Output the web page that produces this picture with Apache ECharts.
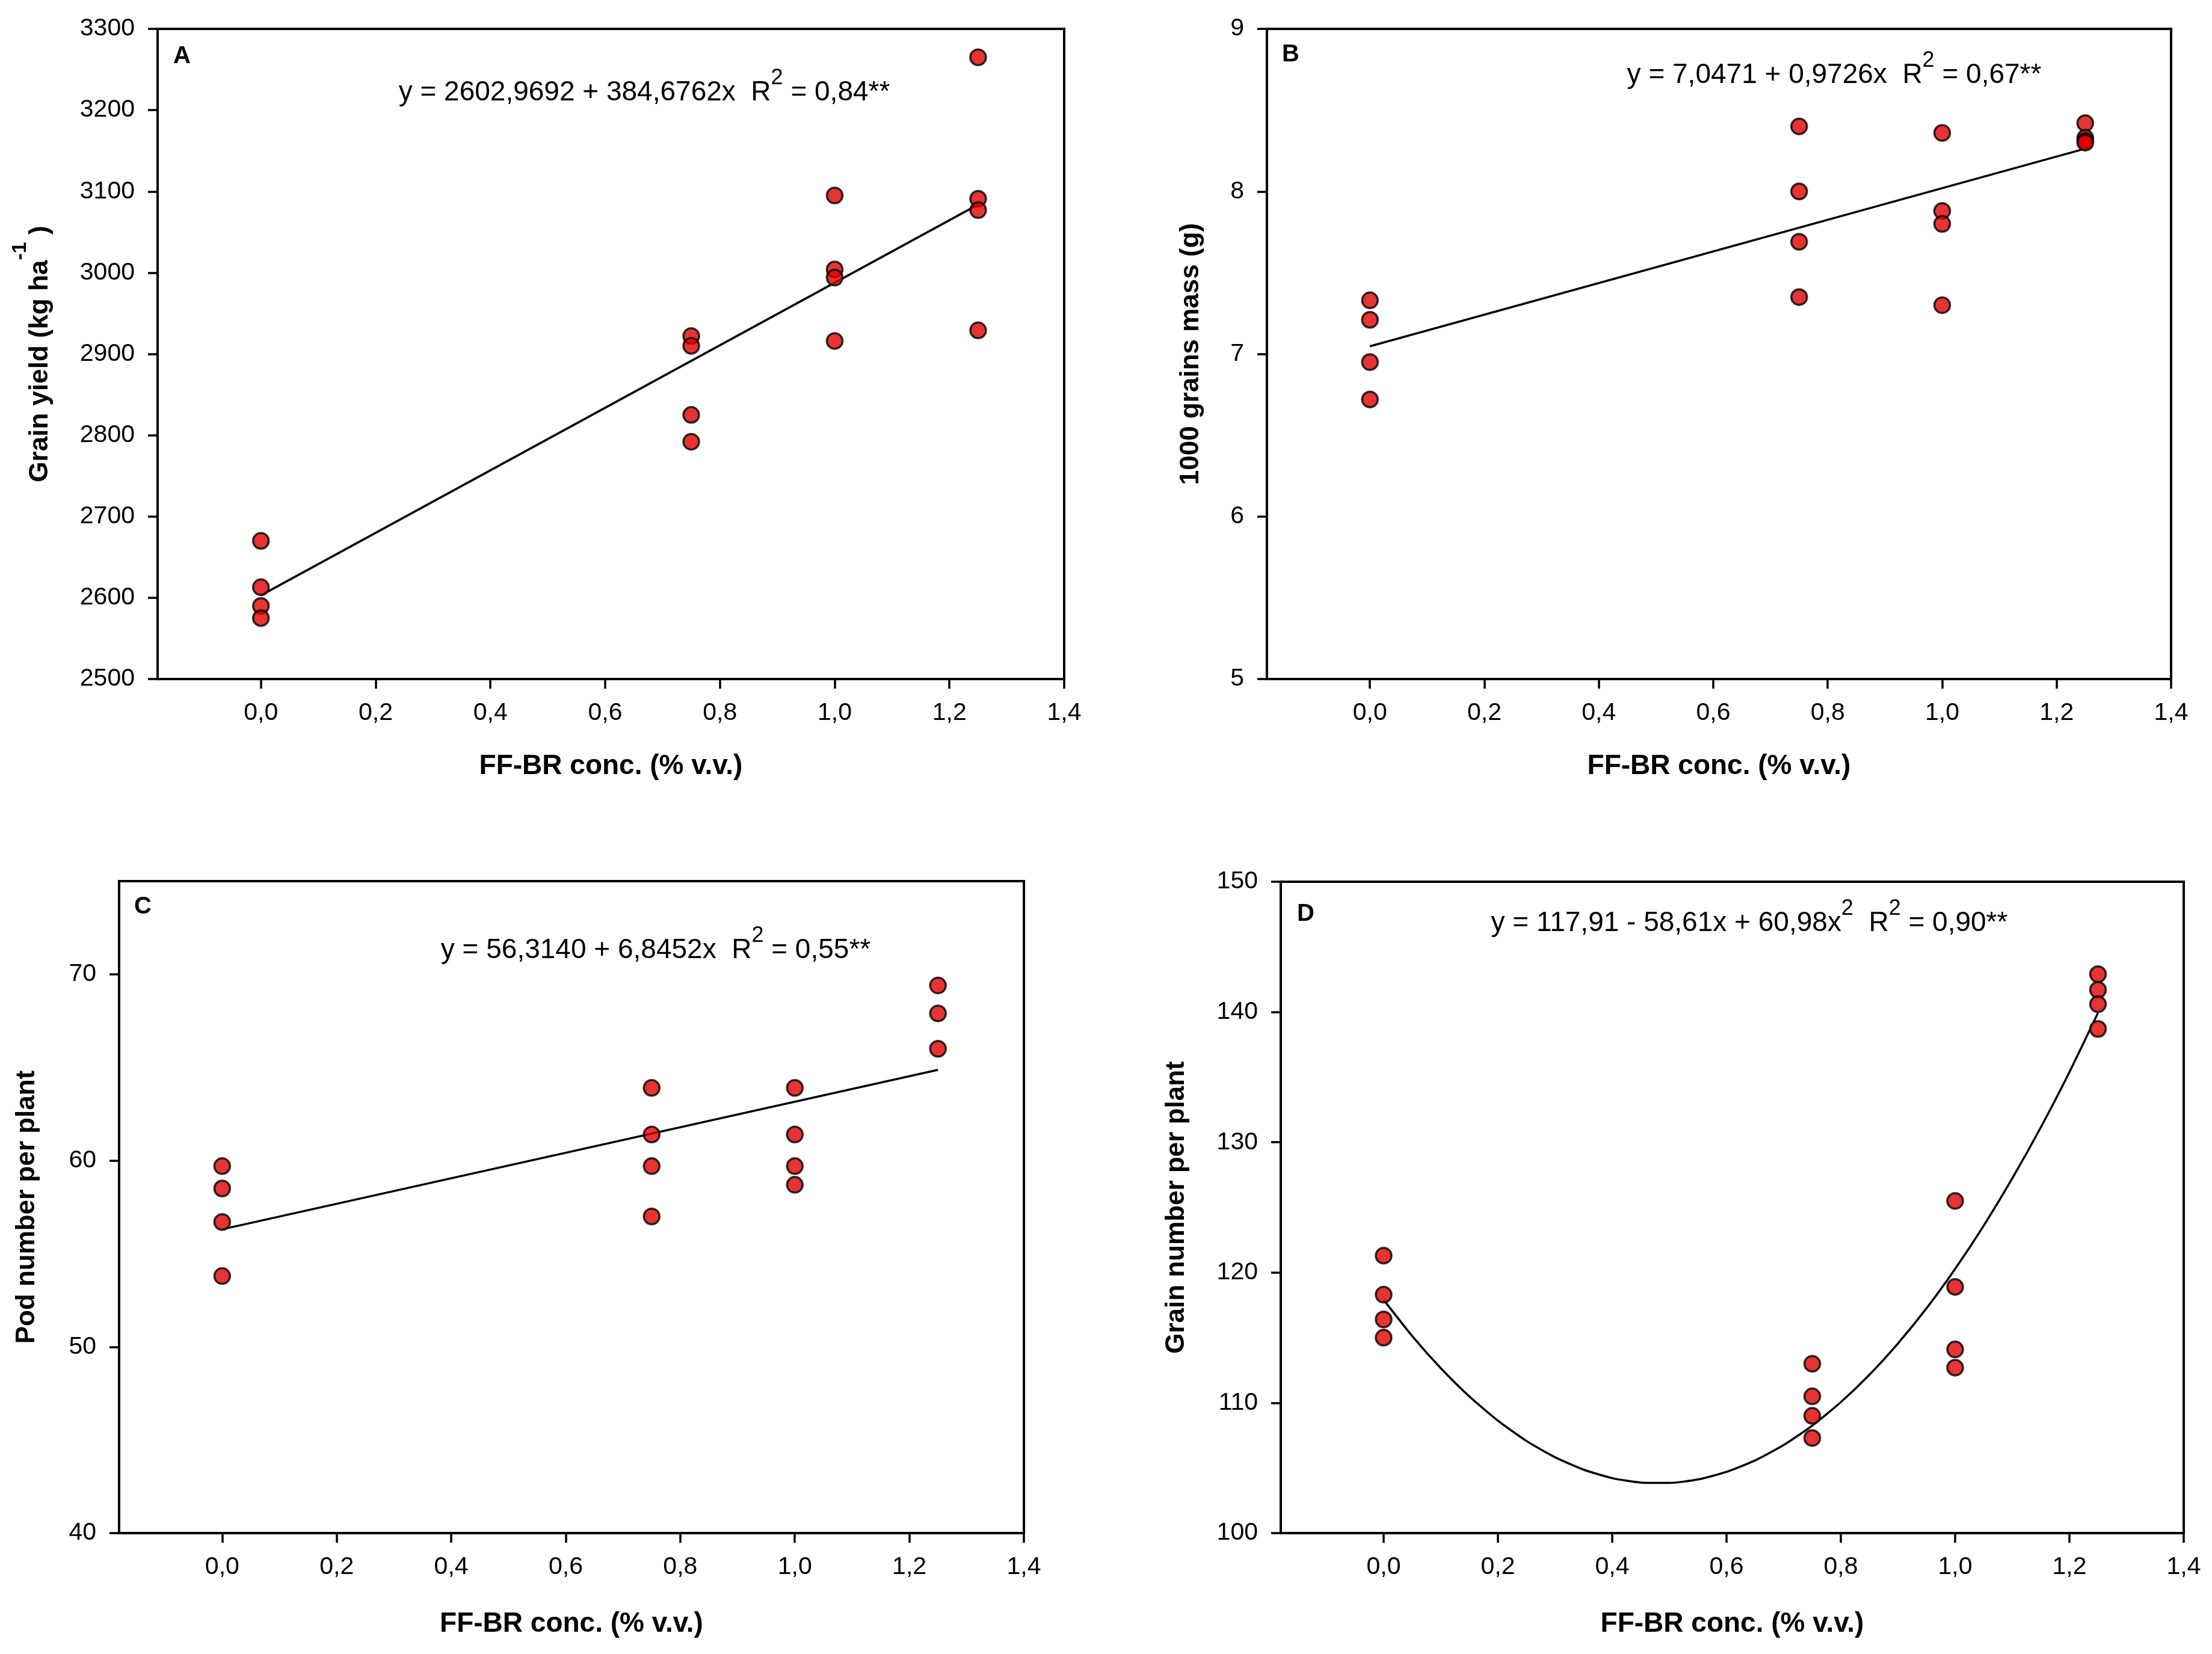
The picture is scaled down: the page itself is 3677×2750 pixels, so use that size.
<!DOCTYPE html>
<html><head><meta charset="utf-8">
<script src="https://cdn.jsdelivr.net/npm/echarts@6/dist/echarts.min.js"></script>
<style>html,body{margin:0;padding:0;background:#fff}#c{width:3677px;height:2750px}</style>
</head><body><div id="c"></div>
<script>
// ---- data ----
const concLevels = [0, 0.75, 1.0, 1.25];
const xTickValues = [0, 0.2, 0.4, 0.6, 0.8, 1.0, 1.2, 1.4];
const podTickValues = [40, 50, 60, 70];

const grainYield = [[2670, 2613, 2590, 2575], [2922, 2910, 2825, 2792], [3095, 3004, 2994, 2916], [3265, 3091, 3077, 2929]];
const grainMass = [[7.33, 7.21, 6.95, 6.72], [8.40, 8.00, 7.69, 7.35], [8.36, 7.88, 7.80, 7.30], [8.42, 8.33, 8.31, 8.30]];
const podNumber = [[59.7, 58.5, 56.7, 53.8], [63.9, 61.4, 59.7, 57.0], [63.9, 61.4, 59.7, 58.7], [69.4, 67.9, 66.0]];
const grainNumber = [[121.3, 118.3, 116.4, 115.0], [113.0, 110.5, 109.0, 107.3], [125.5, 118.9, 114.1, 112.7], [142.9, 141.7, 140.6, 138.7]];

const fitYieldX = [0, 1.25];
const fitYieldY = [2602.97, 3083.8];
const fitMassX = [0, 1.25];
const fitMassY = [7.047, 8.263];
const fitPodX = [0, 1.25];
const fitPodY = [56.31, 64.87];
const fitGrainX = [0, 0.05, 0.1, 0.15, 0.2, 0.25, 0.3, 0.35, 0.4, 0.45, 0.5, 0.55, 0.6, 0.65, 0.7, 0.75, 0.8, 0.85, 0.9, 0.95, 1.0, 1.05, 1.1, 1.15, 1.2, 1.25];
const fitGrainY = [117.91, 115.13, 112.66, 110.49, 108.63, 107.07, 105.82, 104.87, 104.22, 103.88, 103.85, 104.12, 104.70, 105.58, 106.76, 108.25, 110.05, 112.15, 114.56, 117.26, 120.28, 123.60, 127.23, 131.15, 135.39, 139.93];

const panelLetters = ['A', 'B', 'C', 'D'];
const equations = [
  ['y = 2602,9692 + 384,6762x  R', '2', ' = 0,84**'],
  ['y = 7,0471 + 0,9726x  R', '2', ' = 0,67**'],
  ['y = 56,3140 + 6,8452x  R', '2', ' = 0,55**'],
  ['y = 117,91 - 58,61x + 60,98x', '2', '  R', '2', ' = 0,90**']
];

// ---- helpers ----
const F = "'Liberation Sans', Arial, Helvetica, sans-serif";
function pairs(levels, groups) {
  const out = [];
  groups.forEach((g, i) => g.forEach(v => out.push([levels[i], v])));
  return out;
}
function zip(xs, ys) { return xs.map((x, i) => [x, ys[i]]); }

const grids = [
  { left: 262, top: 48, width: 1507, height: 1081 },
  { left: 2106, top: 48, width: 1503, height: 1081 },
  { left: 198, top: 1465, width: 1504, height: 1084 },
  { left: 2129, top: 1466, width: 1501, height: 1083 }
].map(g => Object.assign(g, { show: true, borderColor: '#000', borderWidth: 4, backgroundColor: 'transparent' }));

function xAx(gi, gap) {
  return {
    gridIndex: gi, type: 'value', min: -0.18, max: 1.4,
    name: 'FF-BR conc. (% v.v.)', nameLocation: 'middle', nameGap: gap,
    nameTextStyle: { fontFamily: F, fontSize: 46, fontWeight: 'bold', color: '#000', lineHeight: 50 },
    axisLine: { show: true, onZero: false, lineStyle: { color: '#000', width: 4 } },
    axisTick: { show: true, customValues: xTickValues, length: 16, lineStyle: { color: '#000', width: 3.5 } },
    axisLabel: { customValues: xTickValues, formatter: v => v.toFixed(1).replace('.', ','), fontFamily: F, fontSize: 41, color: '#000', margin: 36, lineHeight: 41 },
    splitLine: { show: false }
  };
}
function yAx(gi, min, max, interval, customs, name, gap, rich) {
  const ax = {
    gridIndex: gi, type: 'value', min: min, max: max,
    name: name, nameLocation: 'middle', nameRotate: 90, nameGap: gap,
    nameTextStyle: rich ? { rich: rich } : { fontFamily: F, fontSize: 44, fontWeight: 'bold', color: '#000', lineHeight: 50 },
    axisLine: { show: true, onZero: false, lineStyle: { color: '#000', width: 4 } },
    axisTick: { show: true, length: 16, lineStyle: { color: '#000', width: 3.5 } },
    axisLabel: { formatter: v => String(Math.round(v)), fontFamily: F, fontSize: 41, color: '#000', margin: 38 },
    splitLine: { show: false }
  };
  if (interval) ax.interval = interval;
  if (customs) { ax.axisTick.customValues = customs; ax.axisLabel.customValues = customs; }
  return ax;
}

const titleRich = {
  b: { fontFamily: F, fontSize: 44, fontWeight: 'bold', color: '#000', lineHeight: 100 },
  s: { fontFamily: F, fontSize: 34, fontWeight: 'bold', color: '#000', lineHeight: 34, verticalAlign: 'top' }
};

const scatterStyle = { color: '#e00000', borderColor: '#000', borderWidth: 3.5 };
function scat(gi, data) {
  return { type: 'scatter', xAxisIndex: gi, yAxisIndex: gi, data: data, symbol: 'circle', symbolSize: 26, itemStyle: scatterStyle, z: 4, silent: true };
}
function fit(gi, data, smooth) {
  return { type: 'line', xAxisIndex: gi, yAxisIndex: gi, data: data, smooth: smooth || false, showSymbol: false, symbol: 'none', lineStyle: { color: '#000', width: 3.5 }, z: 3, silent: true };
}

const eqRich = {
  m: { fontFamily: F, fontSize: 46, fill: '#000', color: '#000', lineHeight: 84 },
  s: { fontFamily: F, fontSize: 36, fill: '#000', color: '#000', lineHeight: 36, verticalAlign: 'top' }
};
function eqText(parts) {
  return parts.map((p, i) => (i % 2 === 1 ? '{s|' + p + '}' : '{m|' + p + '}')).join('');
}
const eqPos = [[1071, 154], [3049, 125], [1090, 1580], [2908, 1535]];
const letterPos = [[288, 94], [2131, 91], [223, 1508], [2156, 1520]];

const graphic = [];
equations.forEach((e, i) => graphic.push({
  type: 'text', x: eqPos[i][0], y: eqPos[i][1], z: 10,
  style: { text: eqText(e), align: 'center', verticalAlign: 'middle', rich: eqRich, fill: '#000' }
}));
panelLetters.forEach((l, i) => graphic.push({
  type: 'text', x: letterPos[i][0], y: letterPos[i][1], z: 10,
  style: { text: l, align: 'left', verticalAlign: 'middle', fontFamily: F, fontSize: 40, fontWeight: 'bold', fill: '#000' }
}));

const option = {
  backgroundColor: '#fff',
  animation: false,
  grid: grids,
  xAxis: [xAx(0, 120), xAx(1, 120), xAx(2, 126), xAx(3, 126)],
  yAxis: [
    yAx(0, 2500, 3300, 100, null, '{b|Grain yield (kg ha}{s|-1}{b| )}', 145, titleRich),
    yAx(1, 5, 9, 1, null, '1000 grains mass (g)', 101),
    yAx(2, 40, 75, null, podTickValues, 'Pod number per plant', 128),
    yAx(3, 100, 150, 10, null, 'Grain number per plant', 148)
  ],
  series: [
    fit(0, zip(fitYieldX, fitYieldY)), scat(0, pairs(concLevels, grainYield)),
    fit(1, zip(fitMassX, fitMassY)), scat(1, pairs(concLevels, grainMass)),
    fit(2, zip(fitPodX, fitPodY)), scat(2, pairs(concLevels, podNumber)),
    fit(3, zip(fitGrainX, fitGrainY), 0.2), scat(3, pairs(concLevels, grainNumber))
  ],
  graphic: graphic
};

const chart = echarts.init(document.getElementById('c'), null, { renderer: 'canvas', width: 3677, height: 2750 });
chart.setOption(option);
</script>
</body></html>
